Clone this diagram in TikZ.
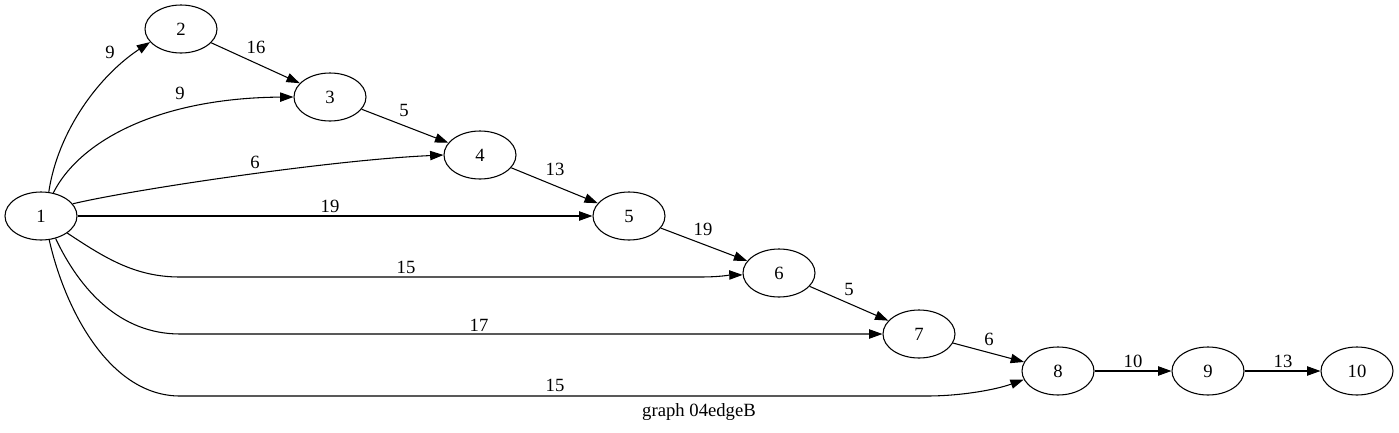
\documentclass[tikz,border=0pt]{standalone}
\usepackage{fontspec}
\setmainfont{Liberation Serif}
\usetikzlibrary{arrows.meta,shapes.geometric}
\begin{document}
\begin{tikzpicture}[x=0.75pt,y=0.75pt,
    vert/.style={draw, ellipse, minimum width=54pt, minimum height=36pt, inner sep=0pt, line width=0.8pt, font=\fontsize{14}{16}\selectfont},
    edge/.style={line width=0.8pt, -{Triangle[length=10pt,width=7pt]}},
    lbl/.style={inner sep=0pt, font=\fontsize{14}{16}\selectfont}]
    \useasboundingbox (0,0) rectangle (1399,-432);
    \node[vert] (n1) at (41,-216) {1};
    \node[vert] (n2) at (181,-29) {2};
    \node[vert] (n3) at (330,-97) {3};
    \node[vert] (n4) at (480,-155) {4};
    \node[vert] (n5) at (629,-216) {5};
    \node[vert] (n6) at (779,-273) {6};
    \node[vert] (n7) at (919,-334) {7};
    \node[vert] (n8) at (1058,-371) {8};
    \node[vert] (n9) at (1208,-371) {9};
    \node[vert] (n10) at (1357,-371) {10};
    \draw[edge] (n1.72) .. controls (58,-130) and (100,-75) .. (n2.203);
    \draw[edge] (n1.62) .. controls (80,-140) and (160,-98) .. (n3.west);
    \draw[edge] (n1.21) .. controls (130,-190) and (330,-160) .. (n4.west);
    \draw[edge] (n1.east) -- (n5.west);
    \draw[edge] (n1.-33) .. controls (105,-258) and (135,-277) .. (180,-277) -- (700,-277) .. controls (720,-277) and (730,-275) .. (n6.183);
    \draw[edge] (n1.-57) .. controls (80,-290) and (120,-334) .. (180,-334) -- (n7.west);
    \draw[edge] (n1.-71) .. controls (65,-310) and (110,-396) .. (180,-396) -- (927,-396) .. controls (960,-396) and (995,-390) .. (n8.194);
    \draw[edge] (n2) -- (n3);
    \draw[edge] (n3) -- (n4);
    \draw[edge] (n4) -- (n5);
    \draw[edge] (n5) -- (n6);
    \draw[edge] (n6) -- (n7);
    \draw[edge] (n7) -- (n8);
    \draw[edge] (n8) -- (n9);
    \draw[edge] (n9) -- (n10);
    % edge weights
    \node[lbl] (w12) at (110,-52) {9};
    \node[lbl] (w23) at (256,-47) {16};
    \node[lbl] (w13) at (180,-93) {9};
    \node[lbl] (w34) at (404,-110) {5};
    \node[lbl] (w14) at (255,-162) {6};
    \node[lbl] (w15) at (330,-206) {19};
    \node[lbl] (w45) at (555,-169) {13};
    \node[lbl] (w56) at (703,-229) {19};
    \node[lbl] (w16) at (406,-267) {15};
    \node[lbl] (w67) at (849,-289) {5};
    \node[lbl] (w17) at (479,-325) {17};
    \node[lbl] (w78) at (989,-339) {6};
    \node[lbl] (w18) at (555,-385) {15};
    \node[lbl] (w89) at (1133,-361) {10};
    \node[lbl] (w910) at (1283,-361) {13};
    \node[lbl, anchor=base] (cap) at (699,-416) {graph 04edgeB};
\end{tikzpicture}
\end{document}
